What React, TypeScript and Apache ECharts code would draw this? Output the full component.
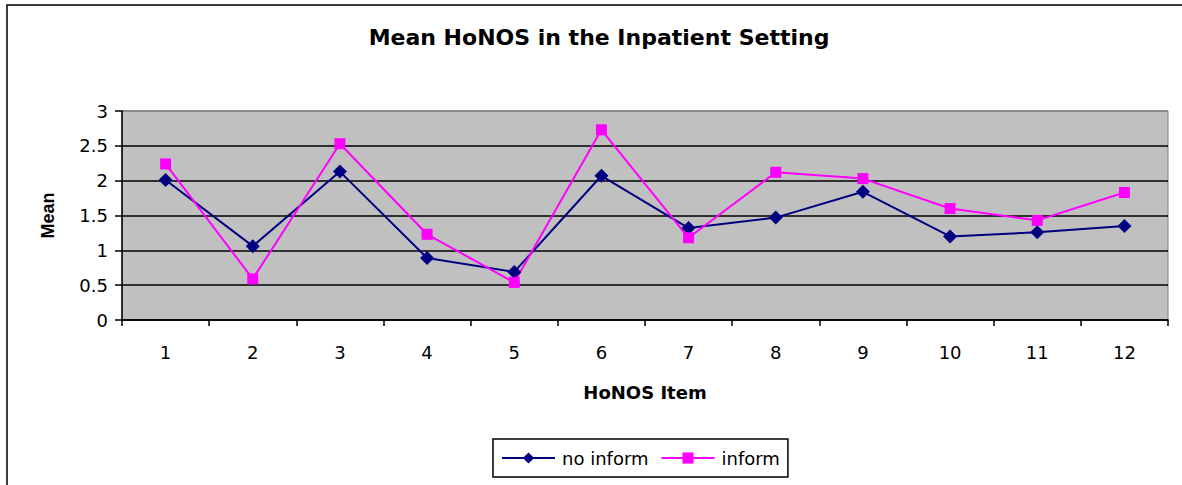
import React, { useEffect, useRef } from "react";
import * as echarts from "echarts";

const categories = ["1", "2", "3", "4", "5", "6", "7", "8", "9", "10", "11", "12"];
const noInform = [2.01, 1.06, 2.13, 0.89, 0.69, 2.07, 1.32, 1.47, 1.84, 1.2, 1.26, 1.35];
const inform = [2.24, 0.59, 2.53, 1.23, 0.54, 2.73, 1.18, 2.12, 2.03, 1.6, 1.43, 1.83];
const seriesNames = ["no inform", "inform"];
const titleText = "Mean HoNOS in the Inpatient Setting";
const xName = "HoNOS Item";
const yName = "Mean";

const FONT = "'DejaVu Sans', 'Liberation Sans', Arial, sans-serif";

export default function App() {
  const ref = useRef<HTMLDivElement>(null);
  useEffect(() => {
    if (!ref.current) return;
    const chart = echarts.init(ref.current, undefined, { renderer: "svg" });
    chart.setOption({
      animation: false,
      backgroundColor: "#ffffff",
      textStyle: { fontFamily: FONT },
      graphic: [
        {
          type: "rect",
          shape: { x: 7, y: 5, width: 1200, height: 500 },
          style: { fill: "none", stroke: "#000", lineWidth: 1.5 },
          silent: true,
        },
        {
          type: "text",
          x: 599,
          y: 37,
          style: {
            text: titleText,
            fontFamily: FONT,
            fontWeight: "bold",
            fontSize: 22,
            fill: "#000",
            textAlign: "center",
            textVerticalAlign: "middle",
          },
        },
      ],
      grid: {
        left: 122,
        top: 111,
        right: 14,
        bottom: 165,
        show: true,
        backgroundColor: "#C0C0C0",
        borderColor: "#808080",
        borderWidth: 1,
      },
      legend: {
        data: seriesNames,
        left: 493,
        top: 439,
        orient: "horizontal",
        padding: [10, 8],
        itemWidth: 53,
        itemHeight: 14,
        itemGap: 12,
        borderColor: "#000",
        borderWidth: 1.5,
        backgroundColor: "#fff",
        borderRadius: 0,
        textStyle: { fontFamily: FONT, fontSize: 18, color: "#000", padding: [0, 0, 0, 2] },
      },
      xAxis: {
        type: "category",
        data: categories,
        boundaryGap: true,
        name: xName,
        nameLocation: "middle",
        nameGap: 63,
        nameTextStyle: { fontFamily: FONT, fontWeight: "bold", fontSize: 18, color: "#000" },
        axisLine: { lineStyle: { color: "#000", width: 1.5 } },
        axisTick: { show: true, length: 6, lineStyle: { color: "#000", width: 1.5 } },
        axisLabel: { fontFamily: FONT, fontSize: 18, color: "#000", margin: 23 },
        splitLine: { show: false },
      },
      yAxis: {
        type: "value",
        min: 0,
        max: 3,
        interval: 0.5,
        name: yName,
        nameLocation: "middle",
        nameGap: 65,
        nameRotate: 90,
        nameTextStyle: {
          fontFamily: "'Liberation Sans', Arial, sans-serif",
          fontWeight: "bold",
          fontSize: 18,
          color: "#000",
        },
        axisLine: { show: true, lineStyle: { color: "#000", width: 1.5 } },
        axisTick: { show: true, length: 7, lineStyle: { color: "#000", width: 1.5 } },
        axisLabel: { fontFamily: FONT, fontSize: 18, color: "#000", margin: 14 },
        splitLine: {
          show: true,
          lineStyle: {
            color: ["#000", "#000", "#000", "#000", "#000", "#000", "#808080"],
            width: 1.5,
          },
        },
      },
      series: [
        {
          name: seriesNames[0],
          type: "line",
          data: noInform,
          symbol: "diamond",
          symbolSize: 14,
          lineStyle: { color: "#000080", width: 2 },
          itemStyle: { color: "#000080" },
        },
        {
          name: seriesNames[1],
          type: "line",
          data: inform,
          symbol: "rect",
          symbolSize: 11,
          lineStyle: { color: "#FF00FF", width: 2 },
          itemStyle: { color: "#FF00FF" },
        },
      ],
    });
    return () => chart.dispose();
  }, []);
  return (
    <div
      ref={ref}
      style={{ position: "absolute", left: 0, top: 0, width: 1182, height: 485 }}
    />
  );
}
